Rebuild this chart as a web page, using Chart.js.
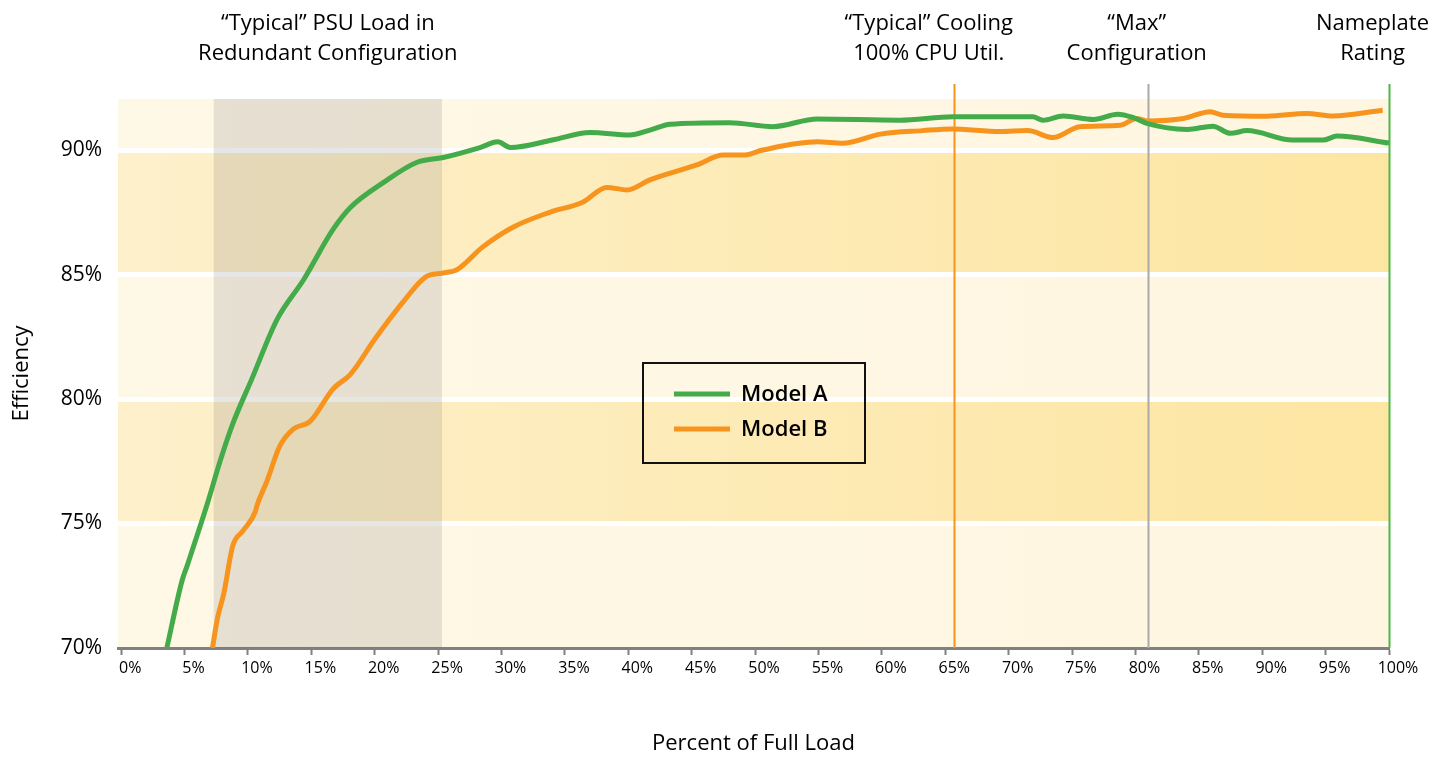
<!DOCTYPE html>
<html>
<head>
<meta charset="utf-8">
<script src="https://cdn.jsdelivr.net/npm/chart.js@4/dist/chart.umd.min.js"></script>
<style>
  body { margin: 0; background: #fff; }
  #wrap { width: 1435px; height: 757px; }
</style>
</head>
<body>
<div id="wrap"><canvas id="effChart" width="1435" height="757"></canvas></div>
<script>
// --- data ---
const loadTicks = [0, 5, 10, 15, 20, 25, 30, 35, 40, 45, 50, 55, 60, 65, 70, 75, 80, 85, 90, 95, 100];
const effTicks = [70, 75, 80, 85, 90];
const yMax = 92.05;

const modelALoad = [3.6, 4.8, 5.2, 6.8, 7.8, 8.8, 10.3, 12.3, 14.4, 16.7, 18.1, 20.7, 23.3, 25.4, 28.3, 29.7, 30.7, 34.0, 37.0, 40.1, 41.7, 43.3, 48.0, 51.4, 54.9, 61.4, 65.6, 71.9, 72.7, 74.3, 76.7, 78.6, 79.8, 80.9, 84.1, 86.1, 87.5, 88.8, 92.4, 94.8, 95.9, 100];
const modelAEff = [70.0, 72.7, 73.3, 75.8, 77.5, 79.0, 80.8, 83.2, 84.8, 86.8, 87.7, 88.7, 89.5, 89.7, 90.1, 90.33, 90.1, 90.4, 90.7, 90.6, 90.8, 91.04, 91.1, 90.94, 91.25, 91.2, 91.34, 91.34, 91.2, 91.37, 91.23, 91.44, 91.31, 91.07, 90.83, 90.96, 90.67, 90.78, 90.4, 90.4, 90.56, 90.28];

const modelBLoad = [7.2, 7.6, 8.1, 8.8, 9.6, 10.6, 10.7, 11.5, 12.5, 13.6, 14.9, 16.7, 18.1, 20.0, 22.4, 24.0, 25.4, 26.5, 28.5, 30.9, 33.8, 36.4, 38.3, 39.9, 41.7, 45.4, 47.5, 49.1, 50.6, 54.9, 56.9, 59.9, 63.2, 65.5, 69.3, 71.5, 73.5, 75.6, 78.8, 80.1, 80.9, 83.8, 85.9, 86.9, 90.4, 93.5, 95.6, 99.5];
const modelBEff = [70.0, 71.2, 72.2, 74.1, 74.7, 75.5, 75.7, 76.7, 78.1, 78.8, 79.1, 80.4, 81.0, 82.4, 84.0, 84.9, 85.06, 85.2, 86.1, 86.9, 87.5, 87.9, 88.5, 88.4, 88.8, 89.4, 89.8, 89.8, 90.0, 90.33, 90.27, 90.64, 90.78, 90.85, 90.74, 90.78, 90.5, 90.94, 91.0, 91.27, 91.17, 91.27, 91.54, 91.4, 91.36, 91.47, 91.37, 91.6];

// shaded "typical PSU load" range and the marker lines
const psuRange = [7.3, 25.3];
const markerLoads = [65.7, 81.0, 100];
const markerColors = ['#f7941d', '#aaaaaa', '#4db848'];

// header notes: text lines and where they sit on the load axis
const noteLines = [
    ['\u201CTypical\u201D PSU Load in', 'Redundant Configuration'],
    ['\u201CTypical\u201D Cooling', '100% CPU Util.'],
    ['\u201CMax\u201D', 'Configuration'],
    ['Nameplate', 'Rating']
];
const noteLoads = [16.3, 63.7, 80.1, 98.7];

const FONT = '"Open Sans", "Noto Sans", sans-serif';

const toPoints = (xs, ys) => xs.map((x, i) => ({ x: x, y: ys[i] }));

// background stripes behind the grid
const bandPlugin = {
    id: 'bands',
    beforeDraw(chart) {
        const { ctx, chartArea: a, scales: { y } } = chart;
        const light = ctx.createLinearGradient(a.left, 0, a.right, 0);
        light.addColorStop(0, 'rgb(254,248,230)');
        light.addColorStop(1, 'rgb(254,246,224)');
        const dark = ctx.createLinearGradient(a.left, 0, a.right, 0);
        dark.addColorStop(0, 'rgb(253,240,203)');
        dark.addColorStop(1, 'rgb(253,230,162)');
        const edges = [70, 75, 80, 85, 90, yMax];
        ctx.save();
        for (let i = 0; i < edges.length - 1; i++) {
            const top = y.getPixelForValue(edges[i + 1]);
            const bot = y.getPixelForValue(edges[i]);
            ctx.fillStyle = i % 2 === 1 ? dark : light;
            ctx.fillRect(a.left, top, a.right - a.left, bot - top);
        }
        ctx.restore();
    }
};

// grey PSU range + vertical markers, over the grid but under the lines
const overlayPlugin = {
    id: 'overlay',
    beforeDatasetsDraw(chart) {
        const { ctx, chartArea: a, scales: { x } } = chart;
        ctx.save();
        const x0 = x.getPixelForValue(psuRange[0]);
        const x1 = x.getPixelForValue(psuRange[1]);
        ctx.fillStyle = 'rgba(110,104,110,0.17)';
        ctx.fillRect(x0, a.top, x1 - x0, a.bottom - a.top);

        markerLoads.forEach((v, i) => {
            const px = Math.round(x.getPixelForValue(v)) + 0.5;
            ctx.strokeStyle = markerColors[i];
            ctx.lineWidth = 2;
            ctx.beginPath();
            ctx.moveTo(px, a.top - 15);
            ctx.lineTo(px, a.bottom);
            ctx.stroke();
        });
        ctx.restore();
    },
    afterDraw(chart) {
        const { ctx, scales: { x } } = chart;
        ctx.save();
        // header notes
        ctx.fillStyle = '#000';
        ctx.font = '22px ' + FONT;
        ctx.textAlign = 'center';
        ctx.textBaseline = 'middle';
        noteLines.forEach((lines, i) => {
            const px = x.getPixelForValue(noteLoads[i]);
            lines.forEach((t, j) => ctx.fillText(t, px, 24 + j * 30));
        });

        // boxed legend
        const bx = 643, by = 363, bw = 222, bh = 100;
        ctx.strokeStyle = '#111';
        ctx.lineWidth = 2;
        ctx.strokeRect(bx, by, bw, bh);
        ctx.textAlign = 'left';
        ctx.font = '600 22px ' + FONT;
        chart.data.datasets.forEach((ds, i) => {
            const ly = by + 31 + i * 35;
            ctx.strokeStyle = ds.borderColor;
            ctx.lineWidth = 5;
            ctx.beginPath();
            ctx.moveTo(bx + 31, ly);
            ctx.lineTo(bx + 87, ly);
            ctx.stroke();
            ctx.fillStyle = '#000';
            ctx.fillText(ds.label, bx + 98, ly + 1);
        });
        ctx.restore();
    }
};

const ctx = document.getElementById('effChart').getContext('2d');
new Chart(ctx, {
    type: 'line',
    data: {
        datasets: [
            {
                label: 'Model A',
                data: toPoints(modelALoad, modelAEff),
                borderColor: '#43ab4a',
                borderWidth: 5,
                pointRadius: 0,
                cubicInterpolationMode: 'monotone',
                fill: false
            },
            {
                label: 'Model B',
                data: toPoints(modelBLoad, modelBEff),
                borderColor: '#f7941d',
                borderWidth: 5,
                pointRadius: 0,
                cubicInterpolationMode: 'monotone',
                fill: false
            }
        ]
    },
    options: {
        responsive: false,
        animation: false,
        layout: { padding: { top: 99, right: 46, left: 0, bottom: 0 } },
        plugins: {
            legend: { display: false },
            tooltip: { enabled: false }
        },
        scales: {
            x: {
                type: 'linear',
                min: -0.25,
                max: 100,
                afterBuildTicks: (axis) => { axis.ticks = loadTicks.map(v => ({ value: v })); },
                afterFit: (axis) => { axis.height = 109; },
                grid: {
                    drawOnChartArea: false,
                    drawTicks: true,
                    tickLength: 7,
                    tickWidth: 2,
                    tickColor: '#808080'
                },
                border: { display: true, color: '#808080', width: 3 },
                ticks: {
                    color: '#000',
                    font: { family: FONT, size: 16 },
                    padding: 4,
                    labelOffset: 9,
                    maxRotation: 0,
                    autoSkip: false,
                    callback: (v) => v + '%'
                },
                title: {
                    display: true,
                    text: 'Percent of Full Load',
                    color: '#000',
                    font: { family: FONT, size: 22 },
                    padding: { top: 0, bottom: 0 }
                }
            },
            y: {
                min: 70,
                max: yMax,
                afterBuildTicks: (axis) => { axis.ticks = effTicks.map(v => ({ value: v })); },
                afterFit: (axis) => { axis.width = 118; },
                grid: {
                    drawTicks: false,
                    lineWidth: 5,
                    color: (c) => (c.tick && c.tick.value === 70) ? 'rgba(0,0,0,0)' : '#ffffff'
                },
                border: { display: false },
                ticks: {
                    color: '#000',
                    font: { family: FONT, size: 21 },
                    padding: 16,
                    callback: (v) => v + '%'
                },
                title: {
                    display: true,
                    text: 'Efficiency',
                    color: '#000',
                    font: { family: FONT, size: 22 },
                    padding: { top: 9, bottom: 0 }
                }
            }
        }
    },
    plugins: [bandPlugin, overlayPlugin]
});
</script>
</body>
</html>
